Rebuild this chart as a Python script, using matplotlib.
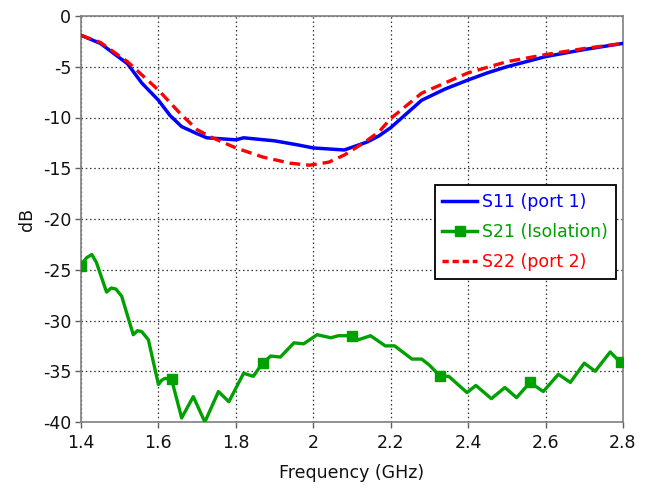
import matplotlib
matplotlib.use("Agg")
import matplotlib.pyplot as plt
from matplotlib.lines import Line2D

# ---- data ----
s11_freq = [1.40, 1.45, 1.52, 1.557, 1.60, 1.63, 1.66, 1.70, 1.725, 1.80, 1.82, 1.90, 1.96,
            2.00, 2.08, 2.11, 2.14, 2.17, 2.20, 2.28, 2.34, 2.40, 2.45, 2.50, 2.60, 2.70, 2.80]
s11_db = [-1.9, -2.7, -4.7, -6.6, -8.3, -9.8, -10.9, -11.6, -12.0, -12.2, -12.0, -12.3, -12.7,
          -13.0, -13.2, -12.8, -12.4, -11.8, -11.0, -8.3, -7.2, -6.3, -5.6, -5.0, -4.0, -3.3, -2.7]

s22_freq = [1.40, 1.45, 1.52, 1.60, 1.656, 1.70, 1.74, 1.80, 1.87, 1.94, 1.99, 2.04, 2.08,
            2.13, 2.17, 2.20, 2.28, 2.40, 2.50, 2.60, 2.70, 2.80]
s22_db = [-1.9, -2.6, -4.5, -7.3, -9.6, -11.2, -12.0, -13.0, -13.9, -14.5, -14.7, -14.4, -13.7,
          -12.5, -11.4, -10.1, -7.6, -5.6, -4.5, -3.8, -3.2, -2.7]

s21_freq = [1.400, 1.415, 1.428, 1.440, 1.466, 1.478, 1.490, 1.505, 1.535, 1.546, 1.557, 1.574,
            1.600, 1.608, 1.617, 1.634, 1.660, 1.690, 1.720, 1.755, 1.782, 1.820, 1.845, 1.869,
            1.890, 1.915, 1.950, 1.975, 2.010, 2.045, 2.065, 2.100, 2.116, 2.148, 2.186, 2.210,
            2.255, 2.280, 2.300, 2.328, 2.350, 2.397, 2.420, 2.460, 2.495, 2.525, 2.560, 2.594,
            2.633, 2.664, 2.700, 2.728, 2.767, 2.790, 2.800]
s21_db = [-24.5, -23.8, -23.5, -24.3, -27.2, -26.8, -26.9, -27.6, -31.4, -31.0, -31.1, -31.9,
          -36.3, -35.9, -35.7, -35.8, -39.6, -37.5, -40.0, -37.0, -38.0, -35.2, -35.5, -34.2,
          -33.5, -33.6, -32.2, -32.3, -31.4, -31.7, -31.5, -31.5, -31.9, -31.5, -32.5, -32.5,
          -33.8, -33.8, -34.4, -35.5, -35.5, -37.1, -36.4, -37.7, -36.6, -37.6, -36.1, -37.0,
          -35.3, -36.1, -34.2, -35.0, -33.1, -34.0, -34.2]

s21_marker_freq = [1.400, 1.634, 1.869, 2.100, 2.328, 2.560, 2.795]
s21_marker_db = [-24.6, -35.8, -34.2, -31.5, -35.5, -36.1, -34.1]

x_ticks = [1.4, 1.6, 1.8, 2.0, 2.2, 2.4, 2.6, 2.8]
x_tick_labels = ["1.4", "1.6", "1.8", "2", "2.2", "2.4", "2.6", "2.8"]
y_ticks = [0, -5, -10, -15, -20, -25, -30, -35, -40]
legend_labels = ["S11 (port 1)", "S21 (Isolation)", "S22 (port 2)"]

# ---- figure ----
plt.rcParams['font.family'] = ['DejaVu Sans']
plt.rcParams['axes.unicode_minus'] = False
fig = plt.figure(figsize=(6.54, 4.88), dpi=100)
ax = fig.add_axes([81 / 654, 1 - 422 / 488, (623 - 81) / 654, (422 - 16) / 488])

blue = "#0000ff"
green = "#00a000"
red = "#ff0000"

ax.plot(s11_freq, s11_db, color=blue, lw=2.5, zorder=4, solid_joinstyle="round")
ax.plot(s21_freq, s21_db, color=green, lw=2.4, zorder=3, solid_joinstyle="round")
ax.plot(s21_marker_freq, s21_marker_db, ls="none", marker="s", ms=6.5, color=green, zorder=3)
ax.plot(s22_freq, s22_db, color=red, lw=2.4, ls=(0, (3.2, 1.8)), zorder=5)

h11 = Line2D([], [], color=blue, lw=2.5)
h21 = Line2D([], [], color=green, lw=2.5, marker="s", ms=6.5)
h22 = Line2D([], [], color=red, lw=2.5, ls=(0, (1.8, 1.1)))

ax.set_xlim(1.4, 2.8)
ax.set_ylim(-40, 0)
ax.set_xticks(x_ticks)
ax.set_xticklabels(x_tick_labels)
ax.set_yticks(y_ticks)
ax.tick_params(axis="x", direction="out", length=4, width=1,
               color="#606060", labelsize=12.5, pad=5, labelcolor="#111111")
ax.tick_params(axis="y", direction="out", length=4, width=1,
               color="#606060", labelsize=12.5, pad=3, labelcolor="#111111")
for s in ax.spines.values():
    s.set_color("#808080")
    s.set_linewidth(1.2)

ax.grid(True, color="#333333", ls=(0, (1.2, 2.2)), lw=0.9)
ax.set_axisbelow(True)

ax.set_xlabel("Frequency (GHz)", fontsize=12.5, color="#111111", labelpad=8)
ax.set_ylabel("dB", fontsize=12.5, color="#111111", labelpad=5)

leg = ax.legend([h11, h21, h22], legend_labels,
                loc="upper right", bbox_to_anchor=(0.987, 0.583), fontsize=12.5,
                frameon=True, fancybox=False, framealpha=1, edgecolor="black",
                handlelength=2.0, handletextpad=0.3, borderpad=0.45,
                labelspacing=0.7, borderaxespad=0)
leg.get_frame().set_linewidth(1.3)
for txt, c in zip(leg.get_texts(), [blue, green, red]):
    txt.set_color(c)
leg.set_zorder(10)

fig.savefig("out.png", dpi=100)
